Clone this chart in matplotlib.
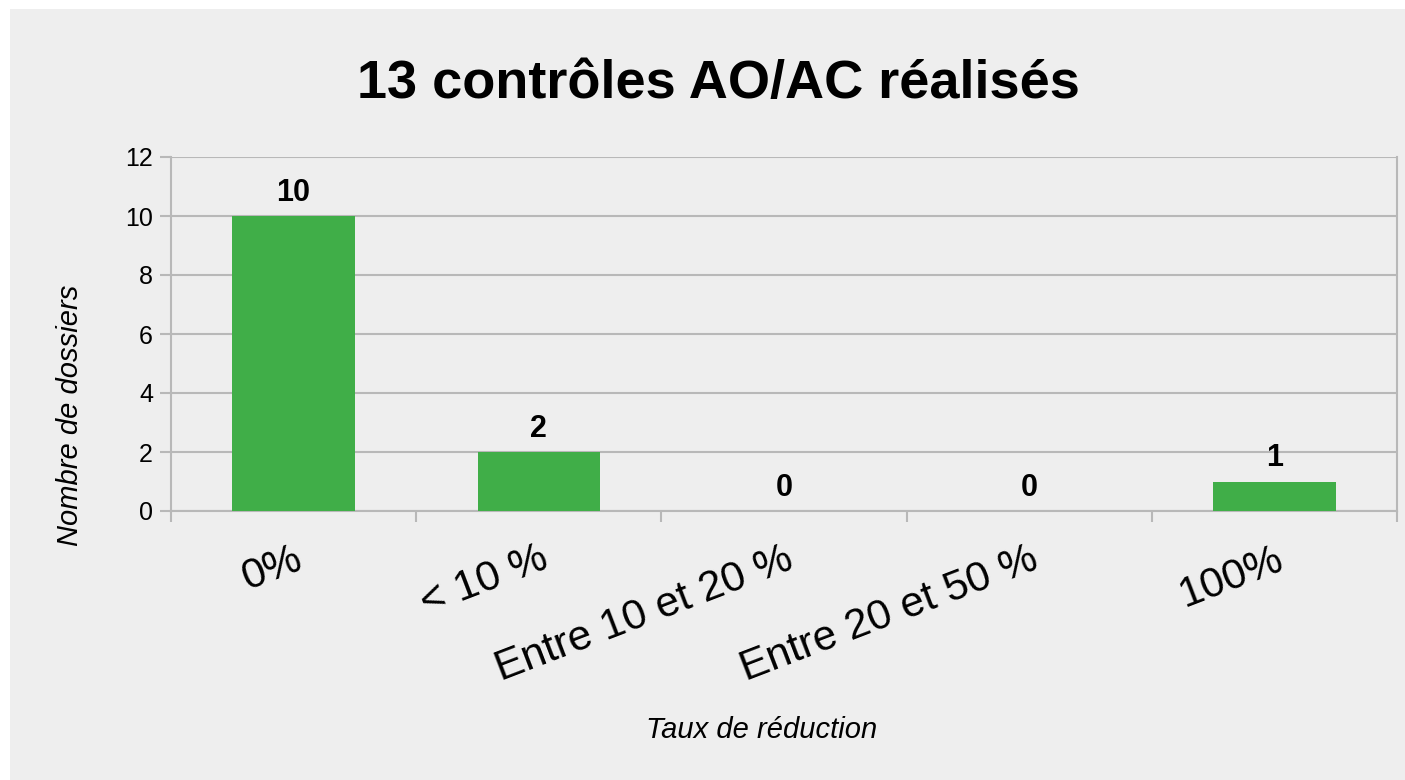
import numpy as np
import matplotlib.pyplot as plt
from matplotlib.patches import Rectangle
from matplotlib.transforms import ScaledTranslation

categories = ['0%', '< 10 %', 'Entre 10 et 20 %', 'Entre 20 et 50 %', '100%']
dossiers = [10, 2, 0, 0, 1]

plt.rcParams['font.family'] = ['Liberation Sans', 'DejaVu Sans']

fig = plt.figure(figsize=(14.05, 7.8), dpi=100, facecolor='white')
# panneau gris
fig.add_artist(Rectangle((10/1405, 0), 1 - 10/1405, 1 - 9/780,
                         transform=fig.transFigure, facecolor='#eeeeee',
                         edgecolor='none', zorder=-10))

ax = fig.add_axes([171/1405, 1 - 511/780, (1397 - 171)/1405, (511 - 157)/780])
ax.set_facecolor('#eeeeee')

x = np.arange(len(categories))
bars = ax.bar(x, dossiers, width=0.5, color='#40ae48', zorder=3)

for xi, v in zip(x, dossiers):
    ax.annotate(str(v), (xi, v), xytext=(0, 6), textcoords='offset points',
                ha='center', va='bottom', fontsize=22, fontweight='bold')

ax.set_xlim(-0.5, len(categories) - 0.5)
ax.set_ylim(0, 12)
ax.set_yticks(np.arange(0, 13, 2))
ax.yaxis.grid(True, color='#b8b8b8', linewidth=1.5, zorder=0)

# ticks aux frontieres, etiquettes au centre
ax.set_xticks(np.arange(-0.5, len(categories), 1))
ax.set_xticklabels([])
ax.set_xticks(x, minor=True)
ax.set_xticklabels(categories, minor=True, rotation=21, ha='right', va='top',
                   rotation_mode='anchor', fontsize=30.5)
shift = ScaledTranslation(-5/100, 0, fig.dpi_scale_trans)
for lab in ax.get_xticklabels(minor=True):
    lab.set_transform(lab.get_transform() + shift)
ax.tick_params(axis='x', which='major', length=8, color='#b8b8b8', width=1.5)
ax.tick_params(axis='x', which='minor', length=0, pad=20)
ax.tick_params(axis='y', length=8, color='#b8b8b8', width=1.5, labelsize=18, pad=5)

for s in ax.spines.values():
    s.set_color('#b8b8b8')
    s.set_linewidth(1.5)
ax.spines['top'].set_visible(False)

fig.text(718/1405, 1 - 84/780, '13 contrôles AO/AC réalisés', ha='center', va='center',
         fontsize=39, fontweight='bold')
fig.text(762/1405, 1 - 730/780, 'Taux de réduction', ha='center', va='center',
         fontsize=21, style='italic')
fig.text(70/1405, 1 - 415/780, 'Nombre de dossiers', ha='center', va='center',
         fontsize=21, style='italic', rotation=90)

plt.savefig('out.png', dpi=100, facecolor=fig.get_facecolor())
